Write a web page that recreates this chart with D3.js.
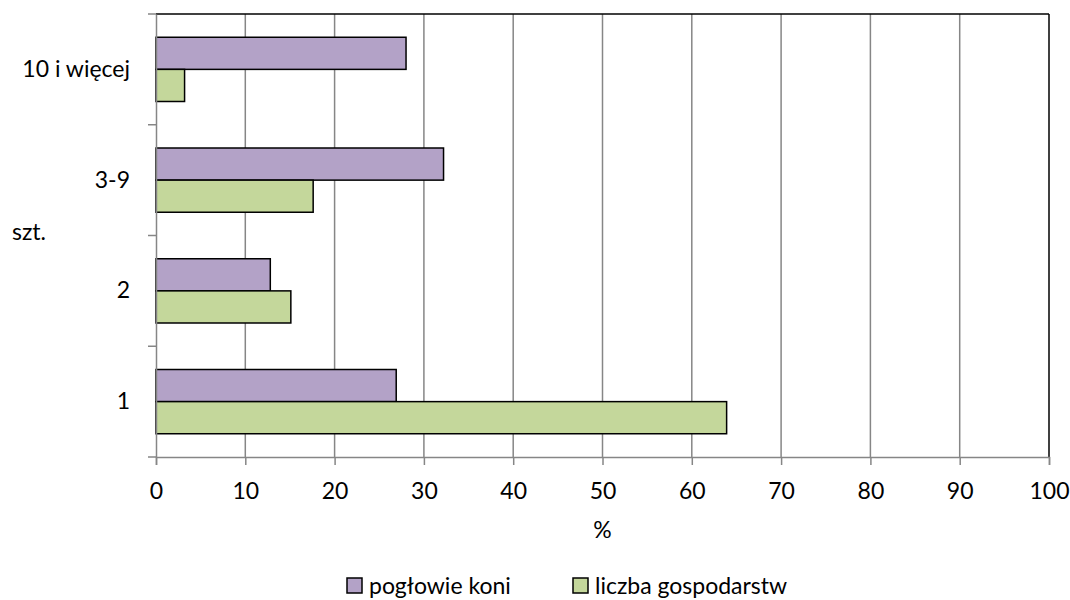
<!DOCTYPE html>
<html>
<head>
<meta charset="utf-8">
<script src="https://cdn.jsdelivr.net/npm/d3@7"></script>
<style>
  body { margin: 0; background: #fff; }
  svg text { font-family: Lato, "Open Sans", sans-serif; font-size: 23px; fill: #000; }
</style>
</head>
<body>
<svg id="chart" width="1070" height="600"></svg>
<script>
const categories = ["1", "2", "3-9", "10 i więcej"];
const seriesNames = ["pogłowie koni", "liczba gospodarstw"];
const pogłowieKoni = [26.9, 12.8, 32.2, 28.0];
const liczbaGospodarstw = [63.9, 15.1, 17.6, 3.2];
const xTicks = [0, 10, 20, 30, 40, 50, 60, 70, 80, 90, 100];
const colors = ["#b3a2c7", "#c4d79b"];

const svg = d3.select("#chart");
const margin = { top: 14, right: 21, bottom: 143, left: 156 };
const width = 1070 - margin.left - margin.right;
const height = 600 - margin.top - margin.bottom;

const x = d3.scaleLinear().domain([0, 100]).range([0, width]);
const y = d3.scaleBand().domain(categories.slice().reverse()).range([0, height]).padding(0);
const inner = d3.scaleBand().domain(seriesNames).range([y.bandwidth() * 0.21, y.bandwidth() * 0.79]);

const g = svg.append("g").attr("transform", `translate(${margin.left},${margin.top})`);

// gridlines
g.selectAll(".grid").data(xTicks.slice(1, -1)).enter().append("line")
  .attr("x1", d => x(d)).attr("x2", d => x(d))
  .attr("y1", 0).attr("y2", height)
  .attr("stroke", "#868686").attr("stroke-width", 1.5);

// plot border top & right
g.append("line").attr("x1", 0).attr("x2", width).attr("y1", 0).attr("y2", 0)
  .attr("stroke", "#000").attr("stroke-width", 1.5);
g.append("line").attr("x1", width).attr("x2", width).attr("y1", 0).attr("y2", height)
  .attr("stroke", "#000").attr("stroke-width", 1.5);

// bars
const rows = categories.map((c, i) => ({ cat: c, vals: [pogłowieKoni[i], liczbaGospodarstw[i]] }));
const grp = g.selectAll(".cat").data(rows).enter().append("g")
  .attr("transform", d => `translate(0,${y(d.cat)})`);
grp.selectAll("rect").data(d => d.vals.map((v, j) => ({ v, s: seriesNames[j], j }))).enter().append("rect")
  .attr("x", 0)
  .attr("y", d => inner(d.s))
  .attr("width", d => x(d.v))
  .attr("height", inner.bandwidth())
  .attr("fill", d => colors[d.j])
  .attr("stroke", "#000").attr("stroke-width", 1.5);

// x axis
const xAxis = g.append("g").attr("transform", `translate(0,${height})`)
  .call(d3.axisBottom(x).tickValues(xTicks).tickSize(8).tickPadding(18));
xAxis.select(".domain").attr("stroke", "#868686").attr("stroke-width", 1.5);
xAxis.selectAll(".tick line").attr("stroke", "#868686").attr("stroke-width", 1.5);
xAxis.selectAll("text").style("font-size", "23px").attr("fill", "#000");

// y axis
const yAxis = g.append("g").call(d3.axisLeft(y).tickSize(0).tickPadding(26));
yAxis.select(".domain").attr("stroke", "#868686").attr("stroke-width", 1.5);
yAxis.selectAll("text").style("font-size", "23px").attr("fill", "#000");
const bounds = y.domain().map(d => y(d)).concat([height]);
g.selectAll(".ytick").data(bounds).enter().append("line")
  .attr("x1", -8).attr("x2", 0)
  .attr("y1", d => d).attr("y2", d => d)
  .attr("stroke", "#868686").attr("stroke-width", 1.5);

// axis titles
svg.append("text").attr("x", margin.left + width / 2).attr("y", 538)
  .attr("text-anchor", "middle").text("%");
svg.append("text").attr("x", 12).attr("y", 240).text("szt.");

// legend
const legend = svg.append("g").attr("transform", "translate(347,578)");
const legendX = [0, 226];
seriesNames.forEach((s, i) => {
  const lg = legend.append("g").attr("transform", `translate(${legendX[i]},0)`);
  lg.append("rect").attr("x", 0).attr("y", 0).attr("width", 15).attr("height", 15)
    .attr("fill", colors[i]).attr("stroke", "#000").attr("stroke-width", 1.5);
  lg.append("text").attr("x", 22).attr("y", 16).text(s);
});
</script>
</body>
</html>
